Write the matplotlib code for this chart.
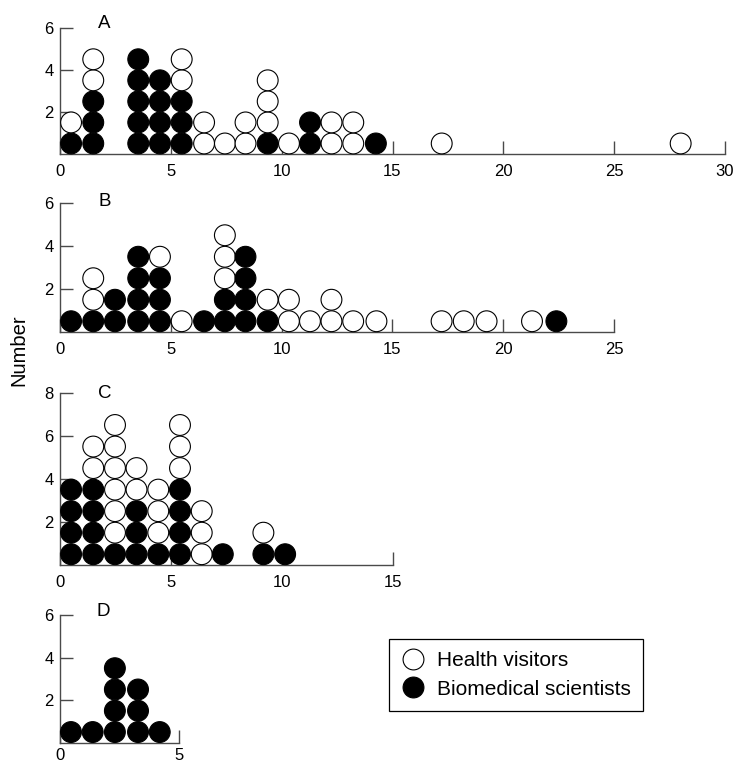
import matplotlib
matplotlib.use('Agg')
import matplotlib.pyplot as plt
from matplotlib.lines import Line2D

plt.rcParams['font.family'] = ['Liberation Sans', 'DejaVu Sans']

# column positions and stacks (bottom to top): b = biomedical scientist, w = health visitor
a_x = [0.5, 1.5, 3.53, 4.51, 5.49, 6.5, 7.44, 8.37, 9.37, 10.33, 11.28, 12.25, 13.23, 14.25, 17.22, 28.0]
a_stack = ['bw', 'bbbww', 'bbbbb', 'bbbb', 'bbbww', 'ww', 'w', 'ww', 'bwww', 'w', 'bb', 'ww', 'ww', 'b', 'w', 'w']

b_x = [0.5, 1.5, 2.48, 3.53, 4.51, 5.49, 6.5, 7.44, 8.37, 9.37, 10.33, 11.28, 12.25, 13.23, 14.28,
       17.22, 18.22, 19.25, 21.3, 22.4]
b_stack = ['b', 'bww', 'bb', 'bbbb', 'bbbw', 'w', 'b', 'bbwww', 'bbbb', 'bw', 'ww', 'w', 'ww', 'w', 'w',
           'w', 'w', 'w', 'w', 'b']

c_x = [0.5, 1.5, 2.48, 3.45, 4.43, 5.41, 6.39, 7.34, 9.17, 10.15]
c_stack = ['bbbb', 'bbbbww', 'bwwwwww', 'bbbww', 'bwww', 'bbbbwww', 'www', 'b', 'bw', 'b']

d_x = [0.46, 1.37, 2.3, 3.27, 4.18]
d_stack = ['b', 'b', 'bbbb', 'bbb', 'b']

panel_names = ['A', 'B', 'C', 'D']
x_max = [30, 25, 15, 5]
y_max = [6, 6, 8, 6]

W, H = 737, 764
# axes boxes in pixels: left, right, top, bottom
boxes = [(60, 725, 27.7, 154), (60, 614, 203, 332), (60, 392.7, 392.7, 565), (60, 179.3, 615, 742.7)]
label_pos = [(104, 28.3), (105, 206), (104.5, 398.3), (103.3, 616)]
xlabel_pad = [7.5, 7.5, 7.5, 3.5]

axis_col = '#4a4a4a'

fig = plt.figure(figsize=(W / 100, H / 100), dpi=100)

for name, xs, stacks, xm, ym, box, lp, xp in zip(panel_names, [a_x, b_x, c_x, d_x],
                                                 [a_stack, b_stack, c_stack, d_stack],
                                                 x_max, y_max, boxes, label_pos, xlabel_pad):
    l, r, t, b = box
    ax = fig.add_axes([l / W, 1 - b / H, (r - l) / W, (b - t) / H])
    px, py, pc = [], [], []
    for x, s in zip(xs, stacks):
        for k, c in enumerate(s):
            px.append(x)
            py.append(k + 0.5)
            pc.append('black' if c == 'b' else 'white')
    ax.scatter(px, py, s=225, c=pc, edgecolors='black', linewidths=0.8, zorder=3, clip_on=False)
    ax.set_xlim(0, xm)
    ax.set_ylim(0, ym)
    ax.set_xticks(range(0, xm + 1, 5))
    ax.set_yticks(range(2, ym + 1, 2))
    for sp in ['top', 'right']:
        ax.spines[sp].set_visible(False)
    for sp in ['left', 'bottom']:
        ax.spines[sp].set_color(axis_col)
        ax.spines[sp].set_linewidth(1.0)
    ax.tick_params(axis='both', direction='in', length=9.5, width=1.0, color=axis_col, labelsize=12)
    ax.tick_params(axis='x', pad=xp)
    ax.tick_params(axis='y', pad=4.5)
    ax.patch.set_visible(False)
    fig.text(lp[0] / W, 1 - lp[1] / H, name, ha='center', va='baseline', fontsize=13.5)

fig.text(19 / W, 1 - 350 / H, 'Number', rotation=90, ha='center', va='center', fontsize=14.5)

handles = [Line2D([], [], ls='none', marker='o', markersize=15, markerfacecolor='white',
                  markeredgecolor='black', markeredgewidth=0.8),
           Line2D([], [], ls='none', marker='o', markersize=15, markerfacecolor='black',
                  markeredgecolor='black', markeredgewidth=0.8)]
leg = fig.legend(handles, ['Health visitors', 'Biomedical scientists'], loc='upper left',
                 bbox_to_anchor=(389 / W, 1 - 639 / H), fontsize=15, frameon=True, fancybox=False,
                 edgecolor='black', framealpha=1, borderpad=0.6, handlelength=1.1,
                 handletextpad=0.6, labelspacing=0.44, borderaxespad=0)
leg.get_frame().set_linewidth(0.9)

fig.savefig('out.png', dpi=100)
